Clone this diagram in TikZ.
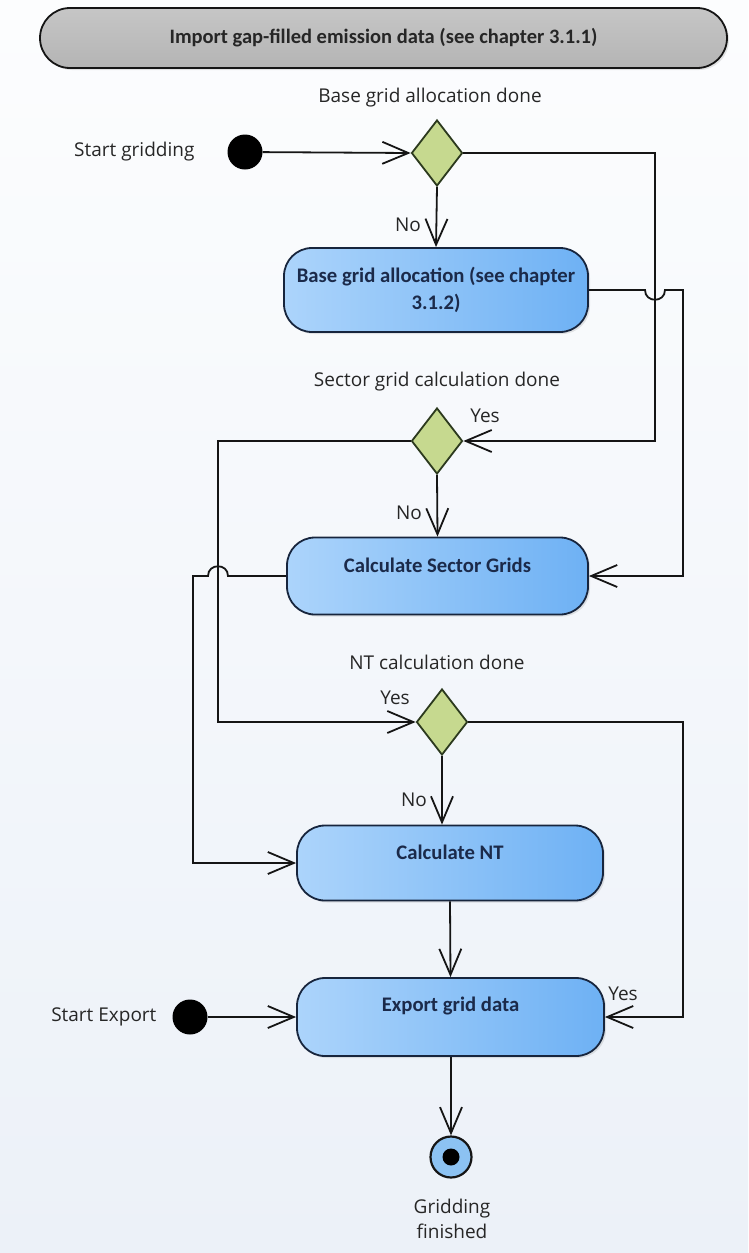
\documentclass[tikz,border=0pt]{standalone}
\usepackage{fontspec}
\setmainfont{Open Sans}
\newfontfamily\boxfont{Carlito}
\usetikzlibrary{arrows.meta,shapes.geometric,shadows,calc}

\definecolor{linec}{HTML}{151515}
\definecolor{boxline}{HTML}{17253D}
\definecolor{boxl}{HTML}{ACD4FB}
\definecolor{boxr}{HTML}{6EB1F4}
\definecolor{boxtext}{HTML}{1B2A4A}
\definecolor{decfill}{HTML}{C6D98F}
\definecolor{decline}{HTML}{2C3A1E}
\definecolor{hdrtop}{HTML}{C6C6C6}
\definecolor{hdrbot}{HTML}{B4B4B4}
\definecolor{labc}{HTML}{262626}
\definecolor{bgtop}{HTML}{FCFDFE}
\definecolor{bgbot}{HTML}{ECF1F8}
\definecolor{endfill}{HTML}{8CC2F2}

\begin{document}
\begin{tikzpicture}[x=1pt,y=-1pt,
  link/.style={draw=linec, line width=1.8pt},
  flow/.style={link, -{Straight Barb[length=26pt,width=22pt]}},
  activity/.style={draw=boxline, line width=1.8pt, rounded corners=28pt,
    left color=boxl, right color=boxr, inner sep=0pt,
    drop shadow={shadow xshift=2pt, shadow yshift=-2pt, opacity=0.2}},
  decision/.style={diamond, draw=decline, fill=decfill, line width=1.8pt,
    minimum width=51pt, minimum height=66pt, inner sep=0pt},
  header/.style={draw=linec, line width=1.8pt, rounded corners=30pt,
    top color=hdrtop, bottom color=hdrbot, minimum width=687pt, minimum height=60pt,
    drop shadow={shadow xshift=2pt, shadow yshift=-2pt, opacity=0.2},
    font=\boxfont\bfseries\fontsize{20.5}{24}\selectfont, text=labc},
  acttxt/.style={font=\boxfont\bfseries\fontsize{20.7}{27}\selectfont, text=boxtext, align=center},
  lbl/.style={font=\fontsize{19}{25}\selectfont, text=labc, align=center},
  startnode/.style={circle, fill=black, minimum size=35pt, inner sep=0pt},
]
\useasboundingbox (0,0) rectangle (748,1253);
\fill[top color=bgtop, bottom color=bgbot] (0,0) rectangle (748,1253);

% header
\node[header] (imp) at (383.5,38) {Import gap-filled emission data (see chapter 3.1.1)};

% start markers
\node[startnode] (st1) at (245,152) {};
\node[lbl, anchor=east] (st1l) at (198,152) {Start gridding};
\node[startnode] (st2) at (190,1017) {};
\node[lbl, anchor=east] (st2l) at (160,1017) {Start Export};

% decisions
\node[decision] (dec1) at (437,153) {};
\node[lbl] (dec1l) at (430,98) {Base grid allocation done};
\node[decision] (dec2) at (437,441) {};
\node[lbl] (dec2l) at (437,382) {Sector grid calculation done};
\node[decision] (dec3) at (442,722) {};
\node[lbl] (dec3l) at (437,662) {NT calculation done};

% activities
\node[activity, minimum width=304pt, minimum height=84pt] (act1) at (436,290) {};
\node[acttxt] (act1t) at (act1.center) {Base grid allocation (see chapter\\3.1.2)};
\node[activity, minimum width=301pt, minimum height=77pt] (act2) at (437.5,576) {};
\node[acttxt] (act2t) at ([yshift=11pt]act2.center) {Calculate Sector Grids};
\node[activity, minimum width=306pt, minimum height=75pt] (act3) at (450,863) {};
\node[acttxt] (act3t) at ([yshift=11pt]act3.center) {Calculate NT};
\node[activity, minimum width=307pt, minimum height=78pt] (act4) at (450.5,1017) {};
\node[acttxt] (act4t) at ([yshift=11pt]act4.center) {Export grid data};

% final marker
\node[circle, draw=linec, line width=2.2pt, fill=endfill, minimum size=41pt, inner sep=0pt] (fin) at (451,1157) {};
\node[circle, fill=black, minimum size=17pt, inner sep=0pt] (findot) at (fin.center) {};
\node[lbl] (finl) at (452,1219) {Gridding\\finished};

% routing columns
\coordinate (rA) at (655,0);
\coordinate (rB) at (683,0);
\coordinate (lA) at (218,0);
\coordinate (lB) at (193,0);

% connectors
\draw[flow] (st1) -- (dec1.west);
\draw[flow] (dec1.east) -- (dec1.east -| rA) -- (rA |- dec2.east) -- (dec2.east);
\draw[flow] (dec1.south) -- (act1.north);
\node[lbl] (no1) at (408,225) {No};
\draw[flow] (act1.east) -- ($(act1.east -| rA)+(-10,0)$)
  .. controls +(0,13) and +(0,13) .. ($(act1.east -| rA)+(10,0)$)
  -- (act1.east -| rB) -- (rB |- act2.east) -- (act2.east);
\node[lbl] (yes1) at (485,416) {Yes};
\draw[flow] (dec2.west) -- (dec2.west -| lA) -- (lA |- dec3.west) -- (dec3.west);
\draw[flow] (dec2.south) -- (act2.north);
\node[lbl] (no2) at (409,513) {No};
\draw[flow] (act2.west) -- ($(act2.west -| lA)+(10,0)$)
  .. controls +(0,-13) and +(0,-13) .. ($(act2.west -| lA)+(-10,0)$)
  -- (act2.west -| lB) -- (lB |- act3.west) -- (act3.west);
\node[lbl] (yes2) at (395,698) {Yes};
\draw[flow] (dec3.south) -- (dec3.south |- act3.north);
\node[lbl] (no3) at (414,800) {No};
\draw[flow] (dec3.east) -- (dec3.east -| rB) -- (rB |- act4.east) -- (act4.east);
\node[lbl] (yes3) at (623,994) {Yes};
\draw[flow] (act3.south) -- (act4.north);
\draw[flow] (st2) -- (act4.west);
\draw[flow] (act4.south -| fin) -- (fin.north);
\end{tikzpicture}
\end{document}
